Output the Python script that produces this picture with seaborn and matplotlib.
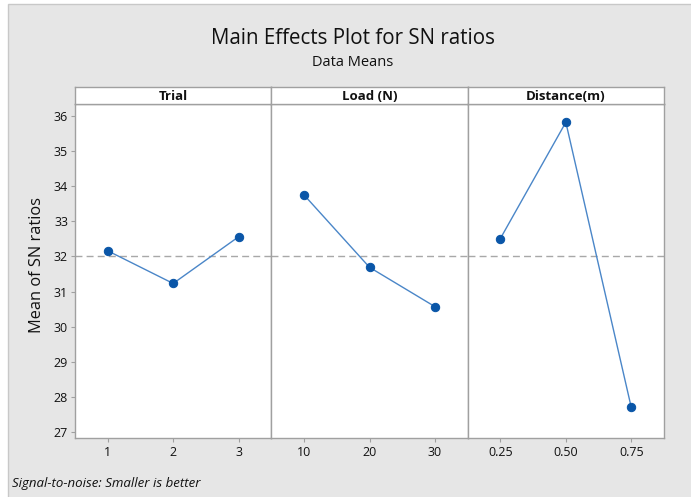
import matplotlib
matplotlib.use("Agg")
import matplotlib.pyplot as plt
import seaborn as sns
import numpy as np
import pandas as pd
from matplotlib.patches import Rectangle

# ---- data ----
factors = ["Trial", "Load (N)", "Distance(m)"]
trial_levels = ["1", "2", "3"]
trial_sn = [32.16, 31.23, 32.56]
load_levels = ["10", "20", "30"]
load_sn = [33.75, 31.69, 30.57]
distance_levels = ["0.25", "0.50", "0.75"]
distance_sn = [32.51, 35.82, 27.70]
y_ticks = [27, 28, 29, 30, 31, 32, 33, 34, 35, 36]

sns.set_theme(style="white")
plt.rcParams["font.family"] = ["Open Sans", "DejaVu Sans"]

W, H = 691, 497
fig = plt.figure(figsize=(W / 100, H / 100), dpi=100)
fig.patch.set_facecolor("white")
fig.add_artist(Rectangle((8 / W, -0.01), 1.02 - 8 / W, 1.01 - 4 / H,
                         transform=fig.transFigure, facecolor="#e6e6e6",
                         edgecolor="#c8c8c8", lw=1, zorder=-10))

left = 75 / W
pw = (664 - 75) / W / 3
bottom = 1 - 438 / H
height = (438 - 104) / H
strip_h = 17 / H

grand_mean = np.mean(trial_sn + load_sn + distance_sn)
spine_c = "#a0a0a0"
txt_c = "#111111"

panels = [(factors[0], trial_levels, trial_sn),
          (factors[1], load_levels, load_sn),
          (factors[2], distance_levels, distance_sn)]

for i, (name, levels, vals) in enumerate(panels):
    ax = fig.add_axes([left + i * pw, bottom, pw, height])
    ax.set_facecolor("white")
    df = pd.DataFrame({"level": levels, "sn": vals})
    sns.pointplot(data=df, x="level", y="sn", order=levels, color="#0a56a8",
                  markers="o", linestyles="-", markersize=6, linewidth=1,
                  errorbar=None, ax=ax)
    for ln in ax.lines:
        ln.set_color("#4a86c8")
        ln.set_markerfacecolor("#0a56a8")
        ln.set_markeredgecolor("#0a56a8")
        ln.set_zorder(3)
    ax.axhline(grand_mean, color="#a8a8a8", ls=(0, (5, 3)), lw=1, zorder=1)
    ax.set_xlim(-0.5, 2.5)
    ax.set_ylim(26.83, 36.34)
    ax.set_xlabel("")
    ax.set_ylabel("")
    for s in ax.spines.values():
        s.set_color(spine_c)
        s.set_linewidth(1)
    ax.tick_params(axis="x", bottom=True, length=3, width=0.8, color=spine_c,
                   labelsize=9, labelcolor=txt_c, pad=3)
    ax.set_yticks(y_ticks)
    if i == 0:
        ax.tick_params(axis="y", left=True, length=3, width=0.8, color=spine_c,
                       labelsize=9, labelcolor=txt_c, pad=2)
    else:
        ax.tick_params(axis="y", left=False, labelleft=False)
    # header strip
    sax = fig.add_axes([left + i * pw, bottom + height, pw, strip_h])
    sax.set_facecolor("white")
    sax.set_xticks([])
    sax.set_yticks([])
    for s in sax.spines.values():
        s.set_color(spine_c)
        s.set_linewidth(1)
    sax.text(0.5, 0.45, name, transform=sax.transAxes, ha="center", va="center",
             fontsize=9.5, fontweight="bold", color=txt_c)

fig.text(353 / W, 1 - 38 / H, "Main Effects Plot for SN ratios", ha="center",
         va="center", fontsize=14.8, color=txt_c)
fig.text(353 / W, 1 - 63 / H, "Data Means", ha="center", va="center",
         fontsize=10.5, color=txt_c)
fig.text(37 / W, 1 - 265 / H, "Mean of SN ratios", rotation=90, ha="center",
         va="center", fontsize=11.8, color=txt_c)
fig.text(12 / W, 1 - 483 / H, "Signal-to-noise: Smaller is better",
         style="italic", ha="left", va="center", fontsize=9.5, color=txt_c)

fig.savefig("out.png", dpi=100, facecolor=fig.get_facecolor())
